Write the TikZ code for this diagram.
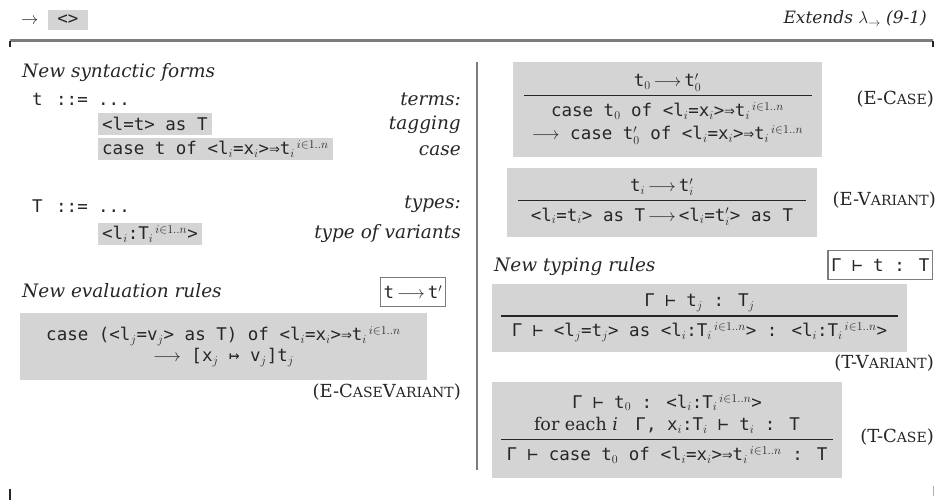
\documentclass[tikz,border=0pt]{standalone}
\usepackage{fontspec}
\setmainfont{DejaVu Serif}
\newfontfamily\termfont{DejaVu Sans Mono}
\usepackage{array}
\usetikzlibrary{positioning}
\definecolor{inkgray}{HTML}{262626}
\definecolor{boxgray}{HTML}{D4D4D4}
\definecolor{rulegray}{HTML}{7C7C7C}

\newcommand\smc[1]{{\fontsize{14}{14}\selectfont\MakeUppercase{#1}}}
\newcommand\inn{$^{\,i\in1..n}$}
\newcommand\lto{\,$\longrightarrow$\,}
\setlength{\arrayrulewidth}{1.3pt}

\tikzset{
  heading/.style={font=\fontsize{18.5}{18.5}\selectfont\itshape, text=inkgray, anchor=base west, inner sep=0pt},
  comment/.style={font=\fontsize{18.5}{18.5}\selectfont\itshape, text=inkgray, anchor=base east, inner sep=0pt},
  term/.style={font=\fontsize{17.5}{17.5}\selectfont\termfont, text=inkgray},
  shaded/.style={term, fill=boxgray, inner xsep=4pt, inner ysep=0pt, minimum height=22pt, anchor=west},
  judgbox/.style={term, draw=rulegray, line width=1.2pt, inner xsep=3pt, minimum height=29pt},
  rulebox/.style={term, fill=boxgray, align=center, inner sep=0pt},
  rulename/.style={font=\fontsize{18}{18}\selectfont, text=inkgray, anchor=base east, inner sep=0pt},
}

\begin{document}
\begin{tikzpicture}[x=1pt, y=-1pt]
  \useasboundingbox (0,0) rectangle (938,500);

  % Header
  \node[term, anchor=base west, inner sep=0pt] (arr) at (21,25) {$\rightarrow$};
  \node[term, fill=boxgray, minimum width=40pt, minimum height=20pt, inner sep=0pt] (ext) at (68,20) {<>};
  \node[font=\fontsize{17}{17}\selectfont\itshape, text=inkgray, anchor=base east, inner sep=0pt] (extends) at (927,24) {Extends $\lambda_{\to}$ (9-1)};
  \draw[rulegray, line width=3pt] (10,41) -- (933,41);
  \draw[inkgray, line width=1.5pt] (10,41) -- (10,47);
  \draw[inkgray, line width=1.5pt] (933,41) -- (933,47);
  \draw[inkgray, line width=1.5pt] (10,489) -- (10,500);
  \draw[gray!60, line width=1pt] (933,486) -- (933,496);

  % Column divider
  \draw[rulegray, line width=1.5pt] (477,62) -- (477,470);

  % Syntax
  \node[heading] (synhead) at (22,78) {New syntactic forms};
  \node[term, anchor=base west, inner sep=0pt] (tvar) at (32,106) {t};
  \node[term, anchor=base west, inner sep=0pt] (tdef) at (56,106) {::=};
  \node[term, anchor=base west, inner sep=0pt] (tdots) at (98,106) {...};
  \node[comment] (terms) at (461,106) {terms:};
  \node[shaded] (tagging) at (98,124) {<l=t> as T};
  \node[comment] (tagcom) at (461,130) {tagging};
  \node[shaded] (casefm) at (98,149) {case t of <l$_i$=x$_i$>⇒t$_i$\inn};
  \node[comment] (casecom) at (461,156) {case};

  \node[term, anchor=base west, inner sep=0pt] (Tvar) at (32,212) {T};
  \node[term, anchor=base west, inner sep=0pt] (Tdef) at (56,212) {::=};
  \node[term, anchor=base west, inner sep=0pt] (Tdots) at (98,212) {...};
  \node[comment] (types) at (461,209) {types:};
  \node[shaded] (varty) at (98,234) {<l$_i$:T$_i$\inn>};
  \node[comment] (varcom) at (461,239) {type of variants};

  % Evaluation
  \node[heading] (evhead) at (22,298) {New evaluation rules};
  \node[judgbox] (evjudg) at (413,292) {t\lto t$'$};
  \node[rulebox, minimum width=407pt, minimum height=67pt] (ecasevar) at (223.5,346.5)
    {case (<l$_j$=v$_j$> as T) of <l$_i$=x$_i$>⇒t$_i$\inn\\[2pt]
     $\longrightarrow$ [x$_j$ ↦ v$_j$]t$_j$};
  \node[rulename] (ecasevarname) at (461,397) {(E-C\smc{ase}V\smc{ariant})};

  \node[rulebox, minimum width=309pt, minimum height=95pt] (ecase) at (667.5,109.5)
    {\begin{tabular}{@{}w{c}{288pt}@{}}
       t$_0$\lto t$'_0$\\[3pt]\hline
       \rule{0pt}{20pt}case t$_0$ of <l$_i$=x$_i$>⇒t$_i$\inn\\[4pt]
       $\longrightarrow$ case t$'_0$ of <l$_i$=x$_i$>⇒t$_i$\inn
     \end{tabular}};
  \node[rulename] (ecasename) at (934,105) {(E-C\smc{ase})};

  \node[rulebox, minimum width=310pt, minimum height=69pt] (evariant) at (662,202.5)
    {\begin{tabular}{@{}w{c}{288pt}@{}}
       t$_i$\lto t$'_i$\\[3pt]\hline
       \rule{0pt}{20pt}<l$_i$=t$_i$> as T\lto <l$_i$=t$'_i$> as T
     \end{tabular}};
  \node[rulename] (evariantname) at (936,206) {(E-V\smc{ariant})};

  % Typing
  \node[heading] (tyhead) at (494,271) {New typing rules};
  \node[judgbox, anchor=east] (tyjudg) at (933,265) {Γ ⊢ t : T};
  \node[rulebox, minimum width=415pt, minimum height=68pt] (tvariant) at (699.5,318)
    {\begin{tabular}{@{}w{c}{397pt}@{}}
       Γ ⊢ t$_j$ : T$_j$\\[3pt]\hline
       \rule{0pt}{20pt}Γ ⊢ <l$_j$=t$_j$> as <l$_i$:T$_i$\inn> : <l$_i$:T$_i$\inn>
     \end{tabular}};
  \node[rulename] (tvariantname) at (934,368) {(T-V\smc{ariant})};

  \node[rulebox, minimum width=350pt, minimum height=96pt] (tcase) at (667,430)
    {\begin{tabular}{@{}w{c}{332pt}@{}}
       Γ ⊢ t$_0$ : <l$_i$:T$_i$\inn>\\[4pt]
       {\rmfamily for each \textit{i}}\quad Γ, x$_i$:T$_i$ ⊢ t$_i$ : T\\[3pt]\hline
       \rule{0pt}{20pt}Γ ⊢ case t$_0$ of <l$_i$=x$_i$>⇒t$_i$\inn\ : T
     \end{tabular}};
  \node[rulename] (tcasename) at (934,442) {(T-C\smc{ase})};
\end{tikzpicture}
\end{document}
